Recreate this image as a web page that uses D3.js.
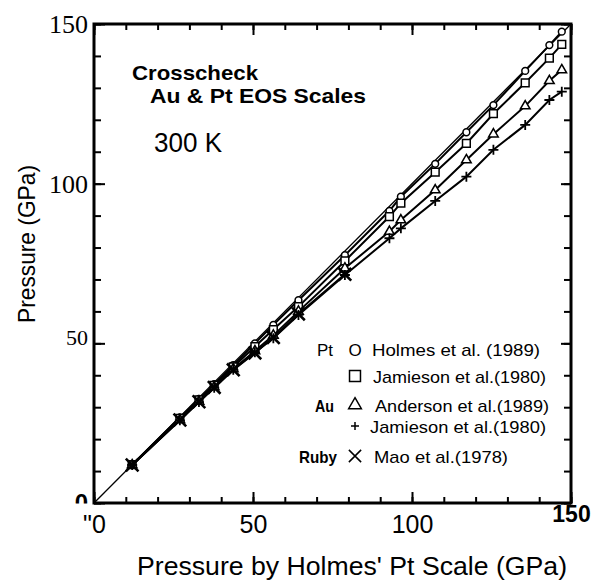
<!DOCTYPE html>
<html>
<head>
<meta charset="utf-8">
<script src="https://cdn.jsdelivr.net/npm/d3@7"></script>
<style>
body { margin: 0; background: #fff; }
svg { display: block; font-family: "Liberation Sans", Arial, sans-serif; }
</style>
</head>
<body>
<div id="chart"></div>
<script>
const width = 593
const height = 582
const margins = { top: 24, bottom: 79, left: 94, right: 22 }

// pressure on Holmes' Pt scale (x) for each compression step
const holmesScale = [12, 27, 33, 37.8, 43.8, 50.6, 56.4, 64.3, 78.9, 92.9, 96.5, 107.3, 117.1, 125.6, 135.6, 143.2, 147.1]
// y values per scale
const ptHolmes = [12, 26.8, 32.6, 37.2, 43.2, 50, 55.8, 63.5, 77.6, 91.5, 95.9, 106.2, 116.1, 124.6, 135.3, 143.4, 147.6]
const ptJamieson = [12, 26.5, 32.3, 36.8, 42.6, 49, 54.3, 61.5, 75.8, 89.7, 93.9, 103.6, 112.6, 121.9, 131.6, 139.3, 143.6]
const auAnderson = [11.9, 26, 31.8, 36.3, 42, 47.6, 52.5, 60, 73.5, 85, 88.6, 98, 107.4, 115.5, 124.3, 132.2, 135.6]
const auJamieson = [11.9, 25.9, 31.6, 36.1, 41.7, 47.2, 51.6, 58.9, 71.4, 82.9, 86, 94.6, 102.2, 110.6, 118.4, 126.2, 128.8]
const rubyMao = [11.9, 26, 31.7, 36.2, 41.7, 47, 51.8, 59.2, 71.6]

const xTickLabels = ['"0', '50', '100', '150']
const yTickLabels = ['0', '50', '100', '150']
const majorTicks = [0, 50, 100, 150]
const minorTicks = d3.range(0, 151, 10)

let svg = d3.select('div#chart').append('svg').attr('width', width).attr('height', height)

let x = d3.scaleLinear().domain([0, 150]).range([margins.left, width - margins.right])
let y = d3.scaleLinear().domain([0, 150]).range([height - margins.bottom, margins.top])

// custom open symbols
const plusType = { draw(ctx, size) { const r = Math.sqrt(size) / 2; ctx.moveTo(-r, 0); ctx.lineTo(r, 0); ctx.moveTo(0, -r); ctx.lineTo(0, r) } }
const crossType = { draw(ctx, size) { const r = Math.sqrt(size) / 2; ctx.moveTo(-r, -r); ctx.lineTo(r, r); ctx.moveTo(-r, r); ctx.lineTo(r, -r) } }

// axes: minor ticks every 10, major every 50, all pointing inward
let axisGroup = svg.append('g').attr('id', 'axisGroup')
const bottomY = y(0), topY = y(150), leftX = x(0), rightX = x(150)

axisGroup.append('g').attr('transform', `translate(0, ${bottomY})`)
    .call(d3.axisBottom(x).tickValues(minorTicks).tickSizeInner(-6).tickSizeOuter(0).tickFormat(''))
axisGroup.append('g').attr('transform', `translate(0, ${topY})`)
    .call(d3.axisTop(x).tickValues(minorTicks).tickSizeInner(-6).tickSizeOuter(0).tickFormat(''))
axisGroup.append('g').attr('transform', `translate(${leftX}, 0)`)
    .call(d3.axisLeft(y).tickValues(minorTicks).tickSizeInner(-7).tickSizeOuter(0).tickFormat(''))
axisGroup.append('g').attr('transform', `translate(${rightX}, 0)`)
    .call(d3.axisRight(y).tickValues(minorTicks).tickSizeInner(-7).tickSizeOuter(0).tickFormat(''))

let xMajor = axisGroup.append('g').attr('class', 'xMajor').attr('transform', `translate(0, ${bottomY})`)
    .call(d3.axisBottom(x).tickValues(majorTicks).tickSizeInner(-11).tickSizeOuter(0).tickPadding(12)
        .tickFormat((d, i) => xTickLabels[i]))
axisGroup.append('g').attr('transform', `translate(0, ${topY})`)
    .call(d3.axisTop(x).tickValues(majorTicks).tickSizeInner(-11).tickSizeOuter(0).tickFormat(''))
let yMajor = axisGroup.append('g').attr('class', 'yMajor').attr('transform', `translate(${leftX}, 0)`)
    .call(d3.axisLeft(y).tickValues(majorTicks).tickSizeInner(-11).tickSizeOuter(0).tickPadding(6)
        .tickFormat((d, i) => yTickLabels[i]))
axisGroup.append('g').attr('transform', `translate(${rightX}, 0)`)
    .call(d3.axisRight(y).tickValues(majorTicks).tickSizeInner(-10).tickSizeOuter(0).tickFormat(''))

axisGroup.selectAll('.domain').remove()
axisGroup.selectAll('line').attr('stroke', '#000').attr('stroke-width', 2)

xMajor.selectAll('text').attr('font-family', '"Liberation Sans", Arial, sans-serif')
    .attr('font-size', 25).attr('fill', '#000')
xMajor.selectAll('text').filter(d => d === 150).attr('dy', '0.3em').attr('font-weight', 'bold').attr('font-size', 23)

yMajor.selectAll('text').attr('font-family', '"Liberation Serif", "Times New Roman", serif')
    .attr('font-size', 26).attr('fill', '#000').attr('dy', '0.34em')
yMajor.selectAll('text').filter(d => d === 50).attr('font-size', 22).attr('dy', '0.05em')

// the "0" on the y axis is cut off at the axis line in the figure:
// clip it in the tick's own coordinates (tick origin sits on y = 0)
yMajor.append('clipPath').attr('id', 'zeroClip').append('rect')
    .attr('x', -60).attr('y', -30).attr('width', 60).attr('height', 30)
yMajor.selectAll('.tick').filter(d => d === 0).select('text')
    .attr('font-family', '"Liberation Sans", Arial, sans-serif').attr('font-weight', 'bold').attr('font-size', 24)
    .attr('dy', '0.3em').attr('clip-path', 'url(#zeroClip)')

// frame
svg.append('rect').attr('x', leftX).attr('y', topY).attr('width', rightX - leftX).attr('height', bottomY - topY)
    .attr('fill', 'none').attr('stroke', '#000').attr('stroke-width', 3)

// elements
let elementGroup = svg.append('g').attr('id', 'elementGroup')

elementGroup.append('line')
    .attr('x1', x(0)).attr('y1', y(0)).attr('x2', x(150)).attr('y2', y(150))
    .attr('stroke', '#000').attr('stroke-width', 1.3)

const series = [
    { name: 'ptHolmes', values: ptHolmes, symbol: d3.symbolCircle, size: 36, width: 1.5 },
    { name: 'ptJamieson', values: ptJamieson, symbol: d3.symbolSquare, size: 60, width: 1.5 },
    { name: 'auAnderson', values: auAnderson, symbol: d3.symbolTriangle, size: 40, width: 1.5 },
    { name: 'auJamieson', values: auJamieson, symbol: plusType, size: 100, width: 1.8 },
    { name: 'rubyMao', values: rubyMao, symbol: crossType, size: 160, width: 2.6 }
]

let line = d3.line().x(d => x(d[0])).y(d => y(d[1]))

series.forEach(s => {
    let pts = s.values.map((v, i) => [holmesScale[i], v])
    let g = elementGroup.append('g').attr('class', `lineGroup line-${s.name}`)
    g.append('path').datum(pts).attr('d', line)
        .attr('fill', 'none').attr('stroke', '#000').attr('stroke-width', 2)
    g.selectAll('path.marker').data(pts).join('path').attr('class', 'marker')
        .attr('transform', d => `translate(${x(d[0])}, ${y(d[1])})`)
        .attr('d', d3.symbol().type(s.symbol).size(s.size))
        .attr('fill', '#fff').attr('stroke', '#000').attr('stroke-width', s.width)
})

// titles
let titles = svg.append('g').attr('id', 'titles')
titles.append('text').attr('x', 132).attr('y', 80).text('Crosscheck')
    .attr('font-weight', 'bold').attr('font-size', 21).attr('textLength', 126).attr('lengthAdjust', 'spacingAndGlyphs')
titles.append('text').attr('x', 150).attr('y', 103).text('Au & Pt EOS Scales')
    .attr('font-weight', 'bold').attr('font-size', 21).attr('textLength', 216).attr('lengthAdjust', 'spacingAndGlyphs')
titles.append('text').attr('x', 154).attr('y', 151.5).text('300 K')
    .attr('font-size', 27).attr('textLength', 68).attr('lengthAdjust', 'spacingAndGlyphs')

// axis titles
svg.append('text').attr('x', 137).attr('y', 575).text("Pressure by Holmes' Pt Scale (GPa)")
    .attr('font-size', 25).attr('textLength', 430).attr('lengthAdjust', 'spacingAndGlyphs')
svg.append('text').attr('transform', 'translate(35, 244) rotate(-90)').attr('text-anchor', 'middle')
    .text('Pressure  (GPa)').attr('font-size', 24).attr('textLength', 158).attr('lengthAdjust', 'spacingAndGlyphs')

// legend
let legendGroup = svg.append('g').attr('id', 'legendGroup')
const legendRows = [
    { group: 'Pt', groupX: 317, groupW: 16, bold: false, symbol: null, label: 'Holmes et al. (1989)', labelX: 372, labelW: 168, base: 356 },
    { group: '', symbol: d3.symbolSquare, size: 120, label: 'Jamieson et al.(1980)', labelX: 373, labelW: 173, base: 383 },
    { group: 'Au', groupX: 315, groupW: 19, bold: true, symbol: d3.symbolTriangle, size: 70, label: 'Anderson et al.(1989)', labelX: 375, labelW: 174, base: 412 },
    { group: '', symbol: plusType, size: 64, label: 'Jamieson et al.(1980)', labelX: 370, labelW: 176, base: 433 },
    { group: 'Ruby', groupX: 299, groupW: 38, bold: true, symbol: crossType, size: 150, label: 'Mao et al.(1978)', labelX: 374, labelW: 134, base: 463 }
]
legendRows.forEach(r => {
    if (r.group) {
        legendGroup.append('text').attr('x', r.groupX).attr('y', r.base).text(r.group)
            .attr('font-size', 17).attr('font-weight', r.bold ? 'bold' : 'normal')
            .attr('textLength', r.groupW).attr('lengthAdjust', 'spacingAndGlyphs')
    }
    if (r.symbol) {
        legendGroup.append('path').attr('transform', `translate(355, ${r.base - 7})`)
            .attr('d', d3.symbol().type(r.symbol).size(r.size))
            .attr('fill', 'none').attr('stroke', '#000').attr('stroke-width', 1.5)
    } else {
        legendGroup.append('text').attr('x', 355).attr('y', r.base).attr('text-anchor', 'middle').text('O').attr('font-size', 17)
    }
    legendGroup.append('text').attr('x', r.labelX).attr('y', r.base).text(r.label)
        .attr('font-size', 17).attr('textLength', r.labelW).attr('lengthAdjust', 'spacingAndGlyphs')
})
</script>
</body>
</html>
